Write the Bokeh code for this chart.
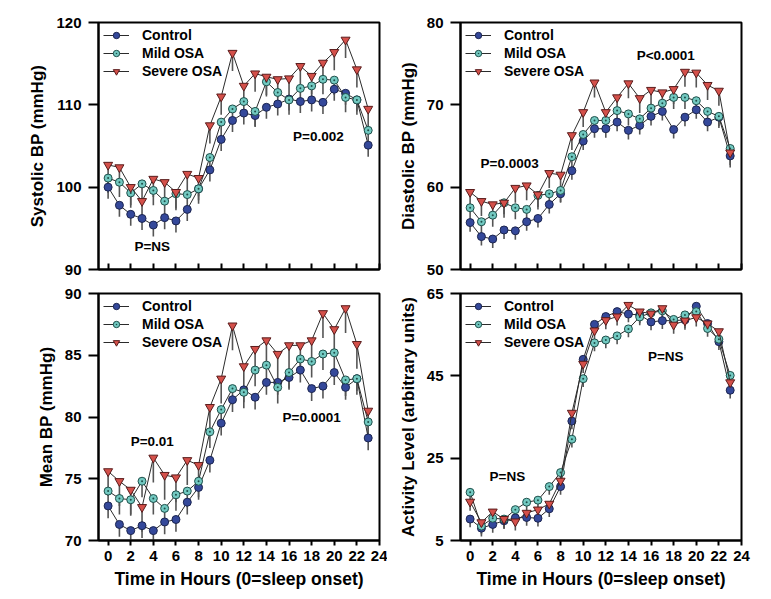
from bokeh.plotting import figure
from bokeh.layouts import column, row
from bokeh.models import Range1d, FixedTicker, Label, Legend, LegendItem
from bokeh.embed import file_html
from bokeh.resources import INLINE

FONT = "Liberation Sans"

hours = list(range(24))
x_ticks = list(range(0, 25, 2))

# Systolic BP (mmHg)
sbp_ctrl = [100.0, 97.8, 96.7, 96.2, 95.4, 96.3, 95.9, 97.3, 99.8, 102.1, 105.8, 108.1,
            109.0, 108.7, 109.7, 110.1, 110.7, 110.4, 110.6, 110.3, 111.9, 111.4, 110.6, 105.1]
sbp_mild = [101.1, 100.6, 99.3, 100.4, 99.6, 98.3, 99.2, 99.1, 99.8, 103.6, 107.9, 109.5,
            110.4, 109.2, 112.8, 111.5, 110.6, 112.0, 112.3, 113.1, 113.0, 110.9, 110.6, 106.9]
sbp_sev = [102.7, 102.4, 100.0, 98.3, 101.0, 100.6, 99.4, 101.6, 101.1, 107.5, 111.0, 116.3,
           112.3, 113.8, 113.4, 113.1, 113.2, 114.7, 113.5, 115.1, 116.4, 117.9, 114.3, 109.5]
sbp_err = [1.4, 1.8, 2.2]

# Diastolic BP (mmHg)
dbp_ctrl = [55.7, 54.0, 53.7, 54.8, 54.7, 55.8, 56.2, 57.9, 59.2, 62.0, 65.6, 67.1,
            67.1, 67.9, 66.9, 67.5, 68.6, 69.2, 67.0, 68.5, 69.4, 67.9, 68.5, 63.8]
dbp_mild = [57.5, 55.8, 56.6, 58.1, 57.5, 57.3, 59.0, 59.2, 59.6, 63.7, 66.4, 68.1,
            68.1, 69.3, 68.9, 68.3, 69.6, 70.2, 70.9, 70.9, 70.5, 69.2, 68.6, 64.7]
dbp_sev = [59.4, 58.3, 57.9, 58.1, 59.9, 60.2, 59.1, 61.7, 61.5, 66.3, 69.1, 72.7,
           69.1, 70.9, 72.6, 70.8, 71.8, 71.5, 71.9, 74.0, 73.9, 72.4, 71.7, 64.2]
dbp_err = [1.1, 1.4, 1.8]

# Mean BP (mmHg)
map_ctrl = [72.8, 71.3, 70.8, 71.2, 70.8, 71.5, 71.7, 73.1, 74.3, 76.5, 79.5, 81.4,
            82.2, 81.6, 82.8, 82.8, 83.2, 83.8, 82.3, 82.5, 83.6, 82.4, 83.1, 78.3]
map_mild = [74.0, 73.4, 73.3, 74.8, 73.4, 72.6, 73.7, 74.0, 74.8, 78.8, 80.6, 82.3,
            82.0, 83.8, 84.2, 82.4, 83.6, 84.7, 84.5, 85.1, 85.2, 83.0, 83.1, 79.6]
map_sev = [75.6, 74.8, 74.1, 72.7, 76.7, 75.3, 75.1, 76.5, 76.1, 80.8, 83.1, 87.4,
           84.1, 85.5, 86.2, 85.1, 85.8, 85.8, 86.2, 88.4, 87.1, 88.8, 85.9, 80.5]
map_err = [1.0, 1.3, 2.0]

# Activity level (arbitrary units)
act_ctrl = [10.2, 8.0, 8.9, 9.8, 10.5, 10.6, 10.4, 12.7, 18.1, 34.0, 49.0, 57.5,
            59.4, 60.6, 60.0, 59.8, 58.1, 58.4, 58.4, 58.6, 61.9, 57.7, 53.3, 41.5]
act_mild = [16.7, 8.5, 10.4, 10.2, 12.5, 14.3, 14.8, 18.1, 21.5, 29.6, 44.3, 53.0,
            53.7, 54.7, 56.4, 59.3, 60.3, 60.8, 58.7, 59.8, 60.6, 56.5, 53.9, 45.1]
act_sev = [14.4, 9.4, 12.0, 10.2, 9.6, 11.7, 12.5, 13.9, 19.5, 36.0, 47.9, 56.0,
           58.5, 59.4, 62.2, 60.6, 60.1, 61.4, 57.4, 58.4, 59.2, 57.7, 55.8, 43.4]
act_err = [2.0, 2.0, 2.2]

group_names = ["Control", "Mild OSA", "Severe OSA"]
fill_colors = ["#34489a", "#72c9c1", "#d4504a"]
edge_colors = ["#1c2550", "#1e4f4a", "#5a1c1c"]
markers = ["circle", "circle_dot", "inverted_triangle"]
marker_sizes = [8, 8, 9]


def make_panel(ylabel, yrange, yticks, series, errs, notes, bottom, bl, br, bt, bb):
    p = figure(frame_width=281, frame_height=247,
               x_range=Range1d(-0.85, 24.0), y_range=Range1d(*yrange),
               output_backend="svg", toolbar_location=None,
               min_border_left=bl, min_border_right=br,
               min_border_top=bt, min_border_bottom=bb)
    p.xgrid.grid_line_color = None
    p.ygrid.grid_line_color = None
    p.outline_line_color = "black"
    p.outline_line_width = 2
    p.background_fill_color = "white"

    for ax in (p.xaxis[0], p.yaxis[0]):
        ax.axis_line_width = 2
        ax.axis_line_color = "black"
        ax.major_tick_line_width = 2
        ax.major_tick_line_color = "black"
        ax.minor_tick_line_color = None
        ax.major_label_text_font = FONT
        ax.major_label_text_font_style = "bold"
        ax.major_label_text_font_size = "15px"
        ax.major_label_text_color = "black"
        ax.axis_label_text_font = FONT
        ax.axis_label_text_font_style = "bold"
        ax.axis_label_text_font_size = "17px"
        ax.axis_label_text_color = "black"

    p.yaxis[0].ticker = FixedTicker(ticks=yticks)
    p.yaxis[0].major_tick_out = 10
    p.yaxis[0].major_tick_in = 0
    p.yaxis[0].major_label_standoff = 7
    p.yaxis[0].axis_label_standoff = 6
    p.yaxis[0].axis_label = ylabel

    p.xaxis[0].ticker = FixedTicker(ticks=x_ticks)
    if bottom:
        p.xaxis[0].major_tick_out = 5
        p.xaxis[0].major_tick_in = 0
        p.xaxis[0].major_label_standoff = 5
        p.xaxis[0].axis_label_standoff = 5
        p.xaxis[0].axis_label = "Time in Hours (0=sleep onset)"
        p.xaxis[0].axis_label_text_font_size = "17.5px"
    else:
        p.xaxis[0].major_tick_out = 0
        p.xaxis[0].major_tick_in = 6
        p.xaxis[0].major_label_overrides = {t: "" for t in x_ticks}
        p.xaxis[0].major_label_standoff = 0

    items = []
    for vals, err in zip(series, errs):
        lows = [v - err for v in vals]
        p.segment(x0=hours, y0=vals, x1=hours, y1=lows, line_color="#555555", line_width=1.6)
    for vals, name, fc, ec, mk, ms in zip(series, group_names, fill_colors,
                                          edge_colors, markers, marker_sizes):
        ln = p.line(hours, vals, line_color="#2b2b2b", line_width=1)
        sc = p.scatter(hours, vals, marker=mk, size=ms, fill_color=fc,
                       line_color=ec, line_width=1)
        items.append(LegendItem(label=name, renderers=[ln, sc]))

    legend = Legend(items=items, location="top_left", margin=0, padding=5,
                    glyph_width=26, glyph_height=16, label_height=16,
                    spacing=2, label_standoff=13,
                    background_fill_alpha=0, border_line_alpha=0,
                    label_text_font=FONT, label_text_font_style="bold",
                    label_text_font_size="14px", label_text_color="black")
    p.add_layout(legend)

    for (tx, ty, t) in notes:
        p.add_layout(Label(x=tx, y=ty, text=t, text_font=FONT, text_font_style="bold",
                           text_font_size="13.5px", text_color="black",
                           text_align="center", text_baseline="middle"))
    return p


p1 = make_panel("Systolic BP (mmHg)", (90, 120), [90, 100, 110, 120],
                [sbp_ctrl, sbp_mild, sbp_sev], sbp_err,
                [(3.9, 92.75, "P=NS"), (18.6, 106.2, "P=0.002")],
                False, 98, 8, 22, 12)
p2 = make_panel("Diastolic BP (mmHg)", (50, 80), [50, 60, 70, 80],
                [dbp_ctrl, dbp_mild, dbp_sev], dbp_err,
                [(3.5, 62.9, "P=0.0003"), (17.3, 76.0, "P<0.0001")],
                False, 73, 10, 22, 12)
p3 = make_panel("Mean BP (mmHg)", (70, 90), [70, 75, 80, 85, 90],
                [map_ctrl, map_mild, map_sev], map_err,
                [(3.9, 78.0, "P=0.01"), (18.0, 79.95, "P=0.0001")],
                True, 98, 8, 12, 52)
p4 = make_panel("Activity Level (arbitrary units)", (5, 65), [5, 25, 45, 65],
                [act_ctrl, act_mild, act_sev], act_err,
                [(3.3, 20.5, "P=NS"), (17.3, 49.6, "P=NS")],
                True, 73, 10, 12, 52)

layout = column(row(p1, p2), row(p3, p4))
open("out.html", "w").write(file_html(layout, INLINE))
